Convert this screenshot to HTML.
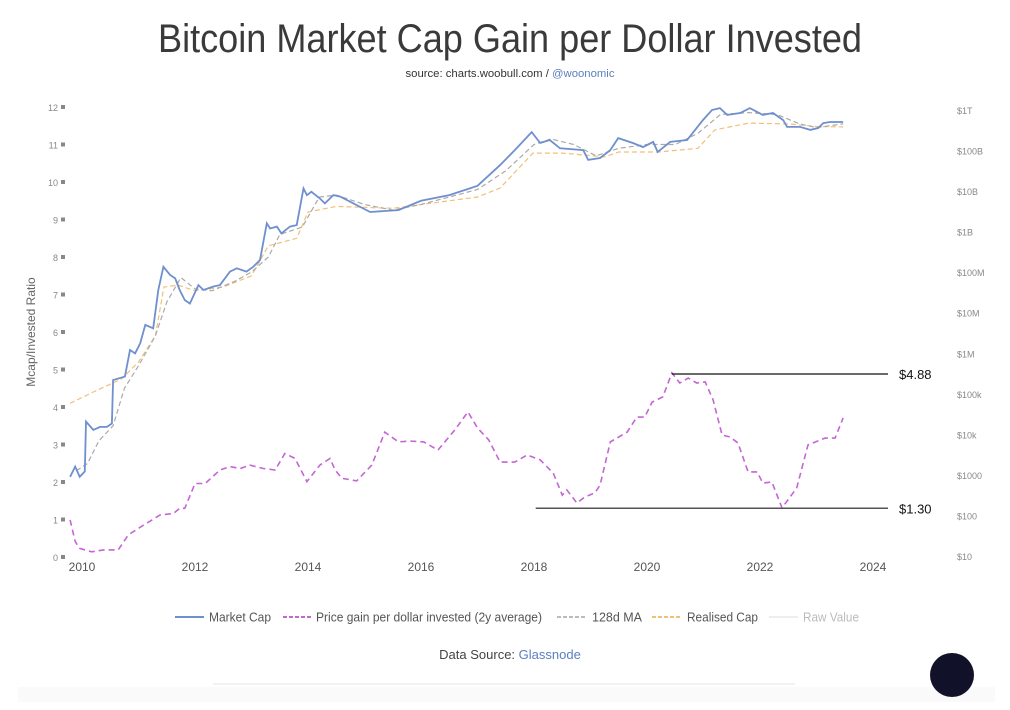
<!DOCTYPE html>
<html><head><meta charset="utf-8"><style>
html,body{margin:0;padding:0;background:#fff;}
svg{display:block;font-family:"Liberation Sans",sans-serif;}
</style></head><body>
<svg id="chart" width="1010" height="710" viewBox="0 0 1010 710" xmlns="http://www.w3.org/2000/svg">
<rect x="0" y="0" width="1010" height="710" fill="#fff"/>
<rect x="18" y="687" width="977" height="15" fill="#fafafa"/>
<line x1="213" y1="684" x2="795" y2="684" stroke="#e6e6e6" stroke-width="1"/>
<text x="510" y="52" text-anchor="middle" font-size="40" fill="#3a3a3a" textLength="704" lengthAdjust="spacingAndGlyphs">Bitcoin Market Cap Gain per Dollar Invested</text>
<text x="510" y="77" text-anchor="middle" font-size="11" fill="#333" textLength="209" lengthAdjust="spacingAndGlyphs">source: charts.woobull.com / <tspan fill="#5b7fc0">@woonomic</tspan></text>
<text transform="translate(35,332) rotate(-90)" text-anchor="middle" font-size="12" fill="#666">Mcap/Invested Ratio</text>
<g id="axes"></g>
<g id="series"></g>
<g id="legend"></g>
<text x="510" y="659" text-anchor="middle" font-size="13" fill="#444">Data Source: <tspan fill="#5b7fc0">Glassnode</tspan></text>
<circle cx="952" cy="675" r="22" fill="#11112a"/>
</svg>
<script>
const xTicks = [2010, 2012, 2014, 2016, 2018, 2020, 2022, 2024];
const yTicks = [0,1,2,3,4,5,6,7,8,9,10,11,12];
const rightTicks = ["$10","$100","$1000","$10k","$100k","$1M","$10M","$100M","$1B","$10B","$100B","$1T"];

const mcapYears = [2009.79,2009.88,2009.96,2010.05,2010.07,2010.20,2010.32,2010.44,2010.53,2010.55,2010.76,2010.85,2010.94,2011.03,2011.12,2011.26,2011.35,2011.44,2011.56,2011.65,2011.73,2011.82,2011.91,2012.06,2012.15,2012.32,2012.44,2012.62,2012.74,2012.91,2013.03,2013.15,2013.27,2013.33,2013.45,2013.53,2013.68,2013.80,2013.92,2013.98,2014.06,2014.21,2014.30,2014.45,2014.57,2015.1,2015.6,2016.0,2016.5,2017.0,2017.4,2017.66,2017.96,2018.11,2018.28,2018.46,2018.87,2018.96,2019.17,2019.35,2019.49,2019.75,2019.93,2020.11,2020.19,2020.41,2020.71,2020.99,2021.15,2021.29,2021.42,2021.65,2021.82,2022.05,2022.23,2022.41,2022.48,2022.71,2022.89,2023.03,2023.12,2023.24,2023.47];
const mcapValues = [2.14,2.41,2.14,2.28,3.61,3.39,3.47,3.47,3.56,4.72,4.81,5.52,5.43,5.70,6.19,6.10,7.12,7.74,7.52,7.43,7.12,6.85,6.76,7.25,7.12,7.21,7.25,7.61,7.70,7.61,7.74,7.92,8.90,8.76,8.81,8.63,8.81,8.85,9.83,9.65,9.74,9.56,9.43,9.65,9.61,9.2,9.25,9.5,9.65,9.9,10.45,10.85,11.33,11.04,11.12,10.9,10.85,10.59,10.64,10.85,11.17,11.04,10.93,11.07,10.8,11.07,11.12,11.65,11.92,11.97,11.79,11.84,11.97,11.79,11.84,11.65,11.47,11.47,11.39,11.44,11.57,11.6,11.6];

const gainYears = [2009.79,2009.88,2009.96,2010.17,2010.38,2010.64,2010.82,2011.09,2011.38,2011.62,2011.73,2011.82,2012.0,2012.18,2012.44,2012.62,2012.80,2012.97,2013.21,2013.42,2013.59,2013.77,2013.98,2014.21,2014.39,2014.48,2014.6,2014.86,2015.13,2015.36,2015.6,2015.8,2016.05,2016.3,2016.6,2016.83,2017.0,2017.2,2017.4,2017.66,2017.88,2018.11,2018.34,2018.5,2018.58,2018.76,2018.9,2019.08,2019.17,2019.35,2019.65,2019.82,2019.96,2020.09,2020.28,2020.44,2020.58,2020.73,2020.88,2021.03,2021.17,2021.33,2021.47,2021.61,2021.79,2021.95,2022.05,2022.21,2022.39,2022.65,2022.85,2023.15,2023.33,2023.47];
const gainValues = [0.99,0.41,0.23,0.14,0.19,0.19,0.59,0.85,1.12,1.16,1.30,1.30,1.96,1.96,2.32,2.41,2.36,2.45,2.36,2.32,2.76,2.63,2.01,2.45,2.63,2.32,2.1,2.03,2.45,3.33,3.07,3.09,3.07,2.85,3.39,3.87,3.44,3.12,2.53,2.53,2.72,2.59,2.24,1.65,1.79,1.44,1.6,1.71,1.92,3.07,3.33,3.73,3.73,4.13,4.27,4.91,4.64,4.77,4.64,4.67,4.19,3.25,3.2,3.04,2.27,2.27,1.97,2.0,1.31,1.84,2.99,3.17,3.17,3.71];

const maYears = [2009.9,2010.1,2010.3,2010.55,2010.75,2011.0,2011.3,2011.5,2011.75,2012.0,2012.3,2012.7,2013.0,2013.3,2013.5,2013.9,2014.2,2014.5,2015.0,2015.5,2016.0,2016.5,2017.0,2017.5,2018.0,2018.3,2018.7,2019.1,2019.5,2020.0,2020.5,2020.9,2021.3,2021.8,2022.3,2022.7,2023.0,2023.47];
const maValues = [2.3,2.5,3.1,3.5,4.5,5.1,5.9,6.8,7.45,7.15,7.1,7.35,7.6,8.0,8.6,8.8,9.6,9.65,9.4,9.25,9.4,9.6,9.8,10.3,11.0,11.15,11.0,10.7,10.9,11.0,11.0,11.3,11.8,11.85,11.8,11.55,11.45,11.55];

const realYears = [2009.79,2010.2,2010.7,2011.0,2011.3,2011.45,2011.7,2012.0,2012.5,2013.0,2013.3,2013.8,2014.0,2014.5,2015.5,2016.5,2017.0,2017.4,2017.98,2018.5,2019.25,2019.5,2020.2,2020.9,2021.2,2021.8,2022.5,2023.0,2023.47];
const realValues = [4.1,4.4,4.75,5.2,5.9,7.2,7.25,7.1,7.2,7.5,8.3,8.5,9.2,9.35,9.3,9.5,9.6,9.84,10.77,10.77,10.67,10.8,10.8,10.9,11.39,11.57,11.55,11.48,11.47];

const maxLabel = "$4.88", maxValue = 4.88, maxStartYear = 2020.44;
const minLabel = "$1.30", minValue = 1.30, minStartYear = 2018.03;

const NS = "http://www.w3.org/2000/svg";
const X0 = 82, XPX = 56.5, Y0 = 557, YPX = 37.5;
function xS(yr){ return X0 + (yr - 2010) * XPX; }
function yS(v){ return Y0 - v * YPX; }
function mk(tag, attrs, parent){ const e = document.createElementNS(NS, tag); for (const k in attrs) e.setAttribute(k, attrs[k]); parent.appendChild(e); return e; }
const axes = document.getElementById('axes'), series = document.getElementById('series'), legend = document.getElementById('legend');

xTicks.forEach(t => {
  const e = mk('text', {x: xS(t), y: 571, 'text-anchor': 'middle', 'font-size': 12, fill: '#555'}, axes);
  
  
  e.textContent = t;
});
yTicks.forEach(t => {
  const e = mk('text', {x: 58, y: yS(t) + 4, 'text-anchor': 'end', 'font-size': 9, fill: '#888'}, axes);
  
  
  e.textContent = t;
  const m = mk('rect', {x: 61, y: yS(t) - 2, width: 4, height: 4, fill: '#888'}, axes);
  
  
});
rightTicks.forEach((t, i) => {
  const e = mk('text', {x: 957, y: 557 - i * 40.55 + 3, 'font-size': 9, fill: '#888'}, axes);
  
  
  e.textContent = t;
});

function path(xs, vs){ return xs.map((x, i) => (i ? 'L' : 'M') + xS(x).toFixed(1) + ',' + yS(vs[i]).toFixed(1)).join(''); }
const real = mk('path', {d: path(realYears, realValues), fill: 'none', stroke: '#f0c078', 'stroke-width': 1.2, 'stroke-dasharray': '5,3'}, series);


const ma = mk('path', {d: path(maYears, maValues), fill: 'none', stroke: '#aaa', 'stroke-width': 1.2, 'stroke-dasharray': '5,3'}, series);


const mc = mk('path', {d: path(mcapYears, mcapValues), fill: 'none', stroke: '#6f8fcf', 'stroke-width': 1.8}, series);


const gn = mk('path', {d: path(gainYears, gainValues), fill: 'none', stroke: '#c466d4', 'stroke-width': 1.6, 'stroke-dasharray': '6,4'}, series);



const hiLine = mk('line', {x1: xS(maxStartYear), y1: yS(maxValue), x2: 888, y2: yS(maxValue), stroke: '#111', 'stroke-width': 1.2}, series);


const hiT = mk('text', {x: 899, y: yS(maxValue) + 5, 'font-size': 13, fill: '#111'}, series);


hiT.textContent = maxLabel;
const loLine = mk('line', {x1: xS(minStartYear), y1: yS(minValue), x2: 888, y2: yS(minValue), stroke: '#555', 'stroke-width': 1.4}, series);


const loT = mk('text', {x: 899, y: yS(minValue) + 5, 'font-size': 13, fill: '#111'}, series);


loT.textContent = minLabel;

const legendItems = [
  {name: 'legend-market-cap', x: 175, tx: 209, color: '#6f8fcf', dash: '', label: 'Market Cap', len: 62, tc: '#555'},
  {name: 'legend-price-gain', x: 283, tx: 316, color: '#c466d4', dash: '4,2', label: 'Price gain per dollar invested (2y average)', len: 226, tc: '#555'},
  {name: 'legend-128d-ma', x: 557, tx: 592, color: '#bbb', dash: '4,2', label: '128d MA', len: 50, tc: '#555'},
  {name: 'legend-realised-cap', x: 652, tx: 687, color: '#f0c078', dash: '4,2', label: 'Realised Cap', len: 71, tc: '#555'},
  {name: 'legend-raw-value', x: 769, tx: 803, color: '#eee', dash: '', label: 'Raw Value', len: 56, tc: '#bbb'}
];
legendItems.forEach(it => {
  const g = mk('g', {}, legend);
  
  
  mk('line', {x1: it.x, y1: 617, x2: it.x + 29, y2: 617, stroke: it.color, 'stroke-width': 2, 'stroke-dasharray': it.dash}, g);
  const t = mk('text', {x: it.tx, y: 621.5, 'font-size': 12.5, fill: it.tc, textLength: it.len, lengthAdjust: 'spacingAndGlyphs'}, g);
  t.textContent = it.label;
});
</script>
</body></html>
